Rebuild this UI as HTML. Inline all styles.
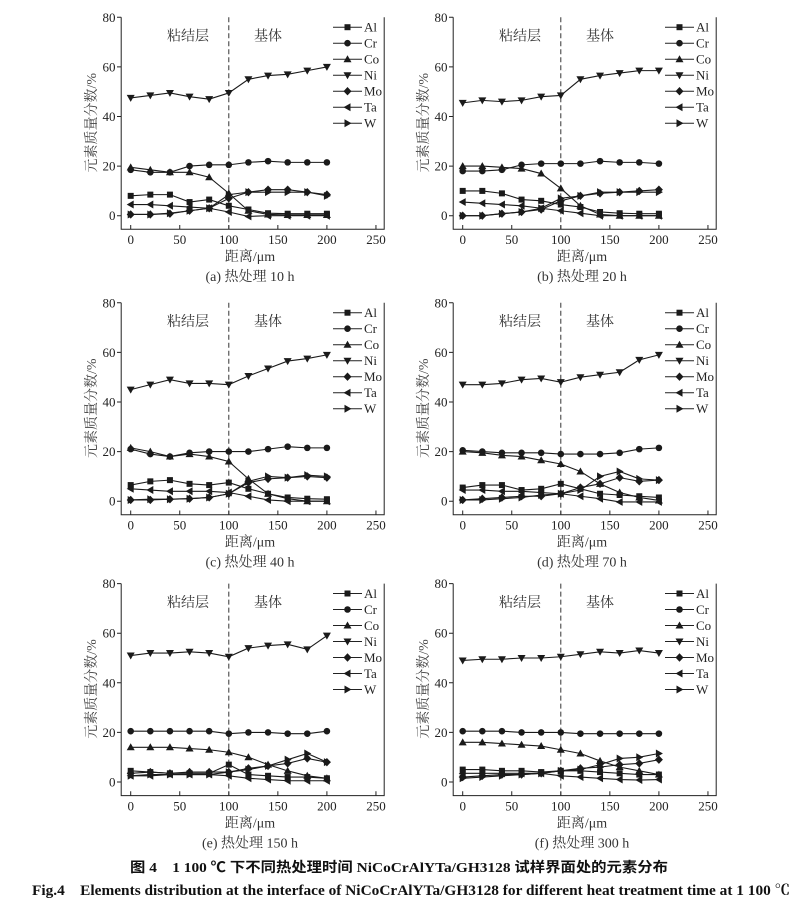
<!DOCTYPE html>
<html><head><meta charset="utf-8"><style>
html,body{margin:0;padding:0;background:#fff;}
svg{display:block;}
.t{font-family:"Liberation Serif","Noto Serif CJK SC",serif;font-size:13px;fill:#222;}
.c{font-family:"Liberation Serif","Noto Serif CJK SC",serif;font-size:14px;fill:#333;}
.ax{fill:none;stroke:#222;stroke-width:1;}
.dash{fill:none;stroke:#333;stroke-width:1;stroke-dasharray:5,3;}
.s{fill:none;stroke:#1a1a1a;stroke-width:1.1;}
.sq{marker:url(#m-sq);} .ci{marker:url(#m-ci);} .tu{marker:url(#m-tu);} .td{marker:url(#m-td);}
.di{marker:url(#m-di);} .tl{marker:url(#m-tl);} .tr{marker:url(#m-tr);}
.lg{fill:#1a1a1a;}
</style></head><body>
<svg width="800" height="909" viewBox="0 0 800 909" xmlns="http://www.w3.org/2000/svg">
<defs>
<marker id="m-sq" markerUnits="userSpaceOnUse" markerWidth="10" markerHeight="10" refX="5" refY="5" orient="0" style="overflow:visible"><path transform="translate(5,5)" d="M-3.06,-1.21h6.12v2.42h-6.12z" fill="#1a1a1a"/></marker>
<marker id="m-ci" markerUnits="userSpaceOnUse" markerWidth="10" markerHeight="10" refX="5" refY="5" orient="0" style="overflow:visible"><ellipse cx="5" cy="5" rx="3.36" ry="1.33" fill="#1a1a1a"/></marker>
<marker id="m-tu" markerUnits="userSpaceOnUse" markerWidth="10" markerHeight="10" refX="5" refY="5" orient="0" style="overflow:visible"><path transform="translate(5,5)" d="M0,1.61L4.08,-1.21L-4.08,-1.21Z" fill="#1a1a1a"/></marker>
<marker id="m-td" markerUnits="userSpaceOnUse" markerWidth="10" markerHeight="10" refX="5" refY="5" orient="0" style="overflow:visible"><path transform="translate(5,5)" d="M0,-1.61L4.08,1.21L-4.08,1.21Z" fill="#1a1a1a"/></marker>
<marker id="m-di" markerUnits="userSpaceOnUse" markerWidth="10" markerHeight="10" refX="5" refY="5" orient="0" style="overflow:visible"><path transform="translate(5,5)" d="M0,1.69L4.08,0L0,-1.69L-4.08,0Z" fill="#1a1a1a"/></marker>
<marker id="m-tl" markerUnits="userSpaceOnUse" markerWidth="10" markerHeight="10" refX="5" refY="5" orient="0" style="overflow:visible"><path transform="translate(5,5)" d="M-4.08,0L3.06,1.61L3.06,-1.61Z" fill="#1a1a1a"/></marker>
<marker id="m-tr" markerUnits="userSpaceOnUse" markerWidth="10" markerHeight="10" refX="5" refY="5" orient="0" style="overflow:visible"><path transform="translate(5,5)" d="M4.08,0L-3.06,1.61L-3.06,-1.61Z" fill="#1a1a1a"/></marker>
<path id="p-sq" d="M-3,-3h6v6h-6z"/>
<circle id="p-ci" cx="0" cy="0" r="3.3"/>
<path id="p-tu" d="M0,-4L4,3L-4,3Z"/>
<path id="p-td" d="M0,4L4,-3L-4,-3Z"/>
<path id="p-di" d="M0,-4.2L4,0L0,4.2L-4,0Z"/>
<path id="p-tl" d="M-4,0L3,-4L3,4Z"/>
<path id="p-tr" d="M4,0L-3,-4L-3,4Z"/>
</defs>

<!-- Panel a -->
<g transform="translate(0,0)">
<path class="ax" d="M121.2,17.3V229.3H384.2V17.3"/>
<path class="ax" d="M117,215.7H121.2M117,166.1H121.2M117,116.5H121.2M117,66.9H121.2M117,17.3H121.2M130.7,229.3V225M179.75,229.3V225M228.8,229.3V225M277.85,229.3V225M326.9,229.3V225M375.95,229.3V225"/>
<path class="dash" d="M228.8,17.3V229.3"/>
<g class="t" text-anchor="end"><text x="115.5" y="220.2">0</text><text x="115.5" y="170.6">20</text><text x="115.5" y="121">40</text><text x="115.5" y="71.4">60</text><text x="115.5" y="21.8">80</text></g>
<g class="t" text-anchor="middle"><text x="130.7" y="244">0</text><text x="179.75" y="244">50</text><text x="228.8" y="244">100</text><text x="277.85" y="244">150</text><text x="326.9" y="244">200</text><text x="375.95" y="244">250</text></g>
<text class="c" x="188" y="40.5" text-anchor="middle">粘结层</text>
<text class="c" x="268" y="40.5" text-anchor="middle">基体</text>
<text class="c" transform="translate(96,122.7) rotate(-90)" text-anchor="middle" style="fill:#444">元素质量分数/%</text>
<text class="c" x="250" y="261.2" text-anchor="middle">距离/μm</text>
<text class="c" x="250" y="281" text-anchor="middle">(a) 热处理 10 h</text>
<path class="ax" d="M333,27.2H362M333,43.2H362M333,59.2H362M333,75.2H362M333,91.2H362M333,107.2H362M333,123.2H362"/>
<g class="lg"><use href="#p-sq" x="347.5" y="27.2"/><use href="#p-ci" x="347.5" y="43.2"/><use href="#p-tu" x="347.5" y="59.2"/><use href="#p-td" x="347.5" y="75.2"/><use href="#p-di" x="347.5" y="91.2"/><use href="#p-tl" x="347.5" y="107.2"/><use href="#p-tr" x="347.5" y="123.2"/></g>
<g class="t"><text x="364" y="31.7">Al</text><text x="364" y="47.7">Cr</text><text x="364" y="63.7">Co</text><text x="364" y="79.7">Ni</text><text x="364" y="95.7">Mo</text><text x="364" y="111.7">Ta</text><text x="364" y="127.7">W</text></g>
<g transform="translate(130.7,215.7) scale(0.981,-2.48)">
<polyline class="s sq" vector-effect="non-scaling-stroke" points="0,8 20,8.5 40,8.5 60,5.5 80,6.5 100,4 120,2.5 140,1 160,0.8 180,0.8 200,0.8"/>
<polyline class="s ci" vector-effect="non-scaling-stroke" points="0,18.5 20,17.5 40,17.5 60,20 80,20.5 100,20.5 120,21.5 140,22 160,21.5 180,21.5 200,21.5"/>
<polyline class="s tu" vector-effect="non-scaling-stroke" points="0,19.5 20,18.5 40,17.5 60,17.5 80,15.5 100,9 120,2 140,0.5 160,0.3 180,0.3 200,0.3"/>
<polyline class="s td" vector-effect="non-scaling-stroke" points="0,47.5 20,48.5 40,49.5 60,48 80,47 100,49.5 120,55 140,56.5 160,57 180,58.5 200,60"/>
<polyline class="s di" vector-effect="non-scaling-stroke" points="0,0.5 20,0.5 40,0.8 60,2 80,3 100,7 120,9.5 140,10.5 160,10.5 180,9.5 200,8.5"/>
<polyline class="s tl" vector-effect="non-scaling-stroke" points="0,4.5 20,4.5 40,4 60,3.5 80,3 100,1.5 120,-0.3 140,0 160,0 180,0 200,0"/>
<polyline class="s tr" vector-effect="non-scaling-stroke" points="0,0.5 20,0.5 40,1 60,2 80,3 100,8.5 120,9.5 140,9.5 160,9.5 180,9.5 200,8"/>
</g>
</g>

<!-- Panel b -->
<g transform="translate(332,0)">
<path class="ax" d="M121.2,17.3V229.3H384.2V17.3"/>
<path class="ax" d="M117,215.7H121.2M117,166.1H121.2M117,116.5H121.2M117,66.9H121.2M117,17.3H121.2M130.7,229.3V225M179.75,229.3V225M228.8,229.3V225M277.85,229.3V225M326.9,229.3V225M375.95,229.3V225"/>
<path class="dash" d="M228.8,17.3V229.3"/>
<g class="t" text-anchor="end"><text x="115.5" y="220.2">0</text><text x="115.5" y="170.6">20</text><text x="115.5" y="121">40</text><text x="115.5" y="71.4">60</text><text x="115.5" y="21.8">80</text></g>
<g class="t" text-anchor="middle"><text x="130.7" y="244">0</text><text x="179.75" y="244">50</text><text x="228.8" y="244">100</text><text x="277.85" y="244">150</text><text x="326.9" y="244">200</text><text x="375.95" y="244">250</text></g>
<text class="c" x="188" y="40.5" text-anchor="middle">粘结层</text>
<text class="c" x="268" y="40.5" text-anchor="middle">基体</text>
<text class="c" transform="translate(96,122.7) rotate(-90)" text-anchor="middle" style="fill:#444">元素质量分数/%</text>
<text class="c" x="250" y="261.2" text-anchor="middle">距离/μm</text>
<text class="c" x="250" y="281" text-anchor="middle">(b) 热处理 20 h</text>
<path class="ax" d="M333,27.2H362M333,43.2H362M333,59.2H362M333,75.2H362M333,91.2H362M333,107.2H362M333,123.2H362"/>
<g class="lg"><use href="#p-sq" x="347.5" y="27.2"/><use href="#p-ci" x="347.5" y="43.2"/><use href="#p-tu" x="347.5" y="59.2"/><use href="#p-td" x="347.5" y="75.2"/><use href="#p-di" x="347.5" y="91.2"/><use href="#p-tl" x="347.5" y="107.2"/><use href="#p-tr" x="347.5" y="123.2"/></g>
<g class="t"><text x="364" y="31.7">Al</text><text x="364" y="47.7">Cr</text><text x="364" y="63.7">Co</text><text x="364" y="79.7">Ni</text><text x="364" y="95.7">Mo</text><text x="364" y="111.7">Ta</text><text x="364" y="127.7">W</text></g>
<g transform="translate(130.7,215.7) scale(0.981,-2.48)">
<polyline class="s sq" vector-effect="non-scaling-stroke" points="0,10 20,10 40,9 60,6.5 80,6 100,4.5 120,3.5 140,1.5 160,1 180,0.8 200,0.8"/>
<polyline class="s ci" vector-effect="non-scaling-stroke" points="0,18 20,18 40,18.5 60,20.5 80,21 100,21 120,21 140,22 160,21.5 180,21.5 200,21"/>
<polyline class="s tu" vector-effect="non-scaling-stroke" points="0,20 20,20 40,19.5 60,19 80,17 100,11 120,4 140,0.5 160,0 180,0 200,0"/>
<polyline class="s td" vector-effect="non-scaling-stroke" points="0,45.5 20,46.5 40,46 60,46.5 80,48 100,48.5 120,55 140,56.5 160,57.5 180,58.5 200,58.5"/>
<polyline class="s di" vector-effect="non-scaling-stroke" points="0,0 20,0 40,0.8 60,1.5 80,2.5 100,6 120,8 140,9 160,9.5 180,10 200,10.5"/>
<polyline class="s tl" vector-effect="non-scaling-stroke" points="0,5.5 20,5 40,4.5 60,4 80,3 100,2 120,1 140,0 160,0 180,0 200,0"/>
<polyline class="s tr" vector-effect="non-scaling-stroke" points="0,0 20,0 40,0.8 60,1.5 80,3 100,7 120,8 140,9.5 160,9.5 180,9.5 200,9.5"/>
</g>
</g>

<!-- Panel c -->
<g transform="translate(0,285.5)">
<path class="ax" d="M121.2,17.3V229.3H384.2V17.3"/>
<path class="ax" d="M117,215.7H121.2M117,166.1H121.2M117,116.5H121.2M117,66.9H121.2M117,17.3H121.2M130.7,229.3V225M179.75,229.3V225M228.8,229.3V225M277.85,229.3V225M326.9,229.3V225M375.95,229.3V225"/>
<path class="dash" d="M228.8,17.3V229.3"/>
<g class="t" text-anchor="end"><text x="115.5" y="220.2">0</text><text x="115.5" y="170.6">20</text><text x="115.5" y="121">40</text><text x="115.5" y="71.4">60</text><text x="115.5" y="21.8">80</text></g>
<g class="t" text-anchor="middle"><text x="130.7" y="244">0</text><text x="179.75" y="244">50</text><text x="228.8" y="244">100</text><text x="277.85" y="244">150</text><text x="326.9" y="244">200</text><text x="375.95" y="244">250</text></g>
<text class="c" x="188" y="40.5" text-anchor="middle">粘结层</text>
<text class="c" x="268" y="40.5" text-anchor="middle">基体</text>
<text class="c" transform="translate(96,122.7) rotate(-90)" text-anchor="middle" style="fill:#444">元素质量分数/%</text>
<text class="c" x="250" y="261.2" text-anchor="middle">距离/μm</text>
<text class="c" x="250" y="281" text-anchor="middle">(c) 热处理 40 h</text>
<path class="ax" d="M333,27.2H362M333,43.2H362M333,59.2H362M333,75.2H362M333,91.2H362M333,107.2H362M333,123.2H362"/>
<g class="lg"><use href="#p-sq" x="347.5" y="27.2"/><use href="#p-ci" x="347.5" y="43.2"/><use href="#p-tu" x="347.5" y="59.2"/><use href="#p-td" x="347.5" y="75.2"/><use href="#p-di" x="347.5" y="91.2"/><use href="#p-tl" x="347.5" y="107.2"/><use href="#p-tr" x="347.5" y="123.2"/></g>
<g class="t"><text x="364" y="31.7">Al</text><text x="364" y="47.7">Cr</text><text x="364" y="63.7">Co</text><text x="364" y="79.7">Ni</text><text x="364" y="95.7">Mo</text><text x="364" y="111.7">Ta</text><text x="364" y="127.7">W</text></g>
<g transform="translate(130.7,215.7) scale(0.981,-2.48)">
<polyline class="s sq" vector-effect="non-scaling-stroke" points="0,6.5 20,8 40,8.5 60,7 80,6.5 100,7.5 120,5 140,3 160,1.5 180,1 200,0.8"/>
<polyline class="s ci" vector-effect="non-scaling-stroke" points="0,21 20,19 40,18 60,19.5 80,20 100,20 120,20 140,21 160,22 180,21.5 200,21.5"/>
<polyline class="s tu" vector-effect="non-scaling-stroke" points="0,21.5 20,20 40,18 60,19 80,18 100,16 120,9 140,3 160,1 180,0 200,0"/>
<polyline class="s td" vector-effect="non-scaling-stroke" points="0,45 20,47 40,49 60,47.5 80,47.5 100,47 120,50.5 140,53.5 160,56.5 180,57.5 200,59"/>
<polyline class="s di" vector-effect="non-scaling-stroke" points="0,0.5 20,0.5 40,0.8 60,1 80,1.5 100,3 120,7.5 140,9 160,9.5 180,10 200,9.5"/>
<polyline class="s tl" vector-effect="non-scaling-stroke" points="0,5 20,4.5 40,4 60,4 80,4 100,3.5 120,2 140,0.5 160,0 180,0 200,0"/>
<polyline class="s tr" vector-effect="non-scaling-stroke" points="0,0.5 20,0.8 40,0.8 60,1 80,1.5 100,3 120,8 140,10 160,9.5 180,10.5 200,10"/>
</g>
</g>

<!-- Panel d -->
<g transform="translate(332,285.5)">
<path class="ax" d="M121.2,17.3V229.3H384.2V17.3"/>
<path class="ax" d="M117,215.7H121.2M117,166.1H121.2M117,116.5H121.2M117,66.9H121.2M117,17.3H121.2M130.7,229.3V225M179.75,229.3V225M228.8,229.3V225M277.85,229.3V225M326.9,229.3V225M375.95,229.3V225"/>
<path class="dash" d="M228.8,17.3V229.3"/>
<g class="t" text-anchor="end"><text x="115.5" y="220.2">0</text><text x="115.5" y="170.6">20</text><text x="115.5" y="121">40</text><text x="115.5" y="71.4">60</text><text x="115.5" y="21.8">80</text></g>
<g class="t" text-anchor="middle"><text x="130.7" y="244">0</text><text x="179.75" y="244">50</text><text x="228.8" y="244">100</text><text x="277.85" y="244">150</text><text x="326.9" y="244">200</text><text x="375.95" y="244">250</text></g>
<text class="c" x="188" y="40.5" text-anchor="middle">粘结层</text>
<text class="c" x="268" y="40.5" text-anchor="middle">基体</text>
<text class="c" transform="translate(96,122.7) rotate(-90)" text-anchor="middle" style="fill:#444">元素质量分数/%</text>
<text class="c" x="250" y="261.2" text-anchor="middle">距离/μm</text>
<text class="c" x="250" y="281" text-anchor="middle">(d) 热处理 70 h</text>
<path class="ax" d="M333,27.2H362M333,43.2H362M333,59.2H362M333,75.2H362M333,91.2H362M333,107.2H362M333,123.2H362"/>
<g class="lg"><use href="#p-sq" x="347.5" y="27.2"/><use href="#p-ci" x="347.5" y="43.2"/><use href="#p-tu" x="347.5" y="59.2"/><use href="#p-td" x="347.5" y="75.2"/><use href="#p-di" x="347.5" y="91.2"/><use href="#p-tl" x="347.5" y="107.2"/><use href="#p-tr" x="347.5" y="123.2"/></g>
<g class="t"><text x="364" y="31.7">Al</text><text x="364" y="47.7">Cr</text><text x="364" y="63.7">Co</text><text x="364" y="79.7">Ni</text><text x="364" y="95.7">Mo</text><text x="364" y="111.7">Ta</text><text x="364" y="127.7">W</text></g>
<g transform="translate(130.7,215.7) scale(0.981,-2.48)">
<polyline class="s sq" vector-effect="non-scaling-stroke" points="0,5.5 20,6.5 40,6.5 60,4.5 80,5 100,7 120,5 140,3 160,2.5 180,2 200,1.5"/>
<polyline class="s ci" vector-effect="non-scaling-stroke" points="0,20.5 20,20 40,19.5 60,19.5 80,19.5 100,19 120,19 140,19 160,19.5 180,21 200,21.5"/>
<polyline class="s tu" vector-effect="non-scaling-stroke" points="0,20 20,19.5 40,18.5 60,18 80,16.5 100,15 120,12 140,7 160,3.5 180,1.5 200,0.3"/>
<polyline class="s td" vector-effect="non-scaling-stroke" points="0,47 20,47 40,47.5 60,49 80,49.5 100,48 120,50 140,51 160,52 180,57 200,59"/>
<polyline class="s di" vector-effect="non-scaling-stroke" points="0,0.5 20,1 40,1.5 60,2 80,2 100,3 120,5.5 140,7 160,9.5 180,8 200,8.5"/>
<polyline class="s tl" vector-effect="non-scaling-stroke" points="0,4.5 20,4.5 40,4 60,4 80,3.5 100,3 120,2 140,1 160,-0.3 180,-0.3 200,-0.3"/>
<polyline class="s tr" vector-effect="non-scaling-stroke" points="0,0.5 20,0.5 40,1 60,1.5 80,2.5 100,3 120,4.5 140,10 160,12 180,9 200,8.5"/>
</g>
</g>

<!-- Panel e -->
<g transform="translate(0,566.3)">
<path class="ax" d="M121.2,17.3V229.3H384.2V17.3"/>
<path class="ax" d="M117,215.7H121.2M117,166.1H121.2M117,116.5H121.2M117,66.9H121.2M117,17.3H121.2M130.7,229.3V225M179.75,229.3V225M228.8,229.3V225M277.85,229.3V225M326.9,229.3V225M375.95,229.3V225"/>
<path class="dash" d="M228.8,17.3V229.3"/>
<g class="t" text-anchor="end"><text x="115.5" y="220.2">0</text><text x="115.5" y="170.6">20</text><text x="115.5" y="121">40</text><text x="115.5" y="71.4">60</text><text x="115.5" y="21.8">80</text></g>
<g class="t" text-anchor="middle"><text x="130.7" y="244">0</text><text x="179.75" y="244">50</text><text x="228.8" y="244">100</text><text x="277.85" y="244">150</text><text x="326.9" y="244">200</text><text x="375.95" y="244">250</text></g>
<text class="c" x="188" y="40.5" text-anchor="middle">粘结层</text>
<text class="c" x="268" y="40.5" text-anchor="middle">基体</text>
<text class="c" transform="translate(96,122.7) rotate(-90)" text-anchor="middle" style="fill:#444">元素质量分数/%</text>
<text class="c" x="250" y="261.2" text-anchor="middle">距离/μm</text>
<text class="c" x="250" y="281" text-anchor="middle">(e) 热处理 150 h</text>
<path class="ax" d="M333,27.2H362M333,43.2H362M333,59.2H362M333,75.2H362M333,91.2H362M333,107.2H362M333,123.2H362"/>
<g class="lg"><use href="#p-sq" x="347.5" y="27.2"/><use href="#p-ci" x="347.5" y="43.2"/><use href="#p-tu" x="347.5" y="59.2"/><use href="#p-td" x="347.5" y="75.2"/><use href="#p-di" x="347.5" y="91.2"/><use href="#p-tl" x="347.5" y="107.2"/><use href="#p-tr" x="347.5" y="123.2"/></g>
<g class="t"><text x="364" y="31.7">Al</text><text x="364" y="47.7">Cr</text><text x="364" y="63.7">Co</text><text x="364" y="79.7">Ni</text><text x="364" y="95.7">Mo</text><text x="364" y="111.7">Ta</text><text x="364" y="127.7">W</text></g>
<g transform="translate(130.7,215.7) scale(0.981,-2.48)">
<polyline class="s sq" vector-effect="non-scaling-stroke" points="0,4.5 20,4 40,3.5 60,3.5 80,3.5 100,7 120,3 140,2.5 160,2 180,2 200,1.5"/>
<polyline class="s ci" vector-effect="non-scaling-stroke" points="0,20.5 20,20.5 40,20.5 60,20.5 80,20.5 100,19.5 120,20 140,20 160,19.5 180,19.5 200,20.5"/>
<polyline class="s tu" vector-effect="non-scaling-stroke" points="0,14 20,14 40,14 60,13.5 80,13 100,12 120,10 140,7 160,4.5 180,2.5 200,1.5"/>
<polyline class="s td" vector-effect="non-scaling-stroke" points="0,51 20,52 40,52 60,52.5 80,52 100,50.5 120,54 140,55 160,55.5 180,53.5 200,59"/>
<polyline class="s di" vector-effect="non-scaling-stroke" points="0,3.5 20,4 40,3.5 60,4 80,4 100,4 120,5.5 140,6.5 160,7.5 180,9.5 200,8"/>
<polyline class="s tl" vector-effect="non-scaling-stroke" points="0,2.5 20,2.5 40,3 60,3 80,3 100,2.5 120,1.5 140,1 160,0.5 180,0.5 200,0.5"/>
<polyline class="s tr" vector-effect="non-scaling-stroke" points="0,2.5 20,3 40,3 60,3 80,3 100,4 120,5 140,6.5 160,9 180,11.5 200,8"/>
</g>
</g>

<!-- Panel f -->
<g transform="translate(332,566.3)">
<path class="ax" d="M121.2,17.3V229.3H384.2V17.3"/>
<path class="ax" d="M117,215.7H121.2M117,166.1H121.2M117,116.5H121.2M117,66.9H121.2M117,17.3H121.2M130.7,229.3V225M179.75,229.3V225M228.8,229.3V225M277.85,229.3V225M326.9,229.3V225M375.95,229.3V225"/>
<path class="dash" d="M228.8,17.3V229.3"/>
<g class="t" text-anchor="end"><text x="115.5" y="220.2">0</text><text x="115.5" y="170.6">20</text><text x="115.5" y="121">40</text><text x="115.5" y="71.4">60</text><text x="115.5" y="21.8">80</text></g>
<g class="t" text-anchor="middle"><text x="130.7" y="244">0</text><text x="179.75" y="244">50</text><text x="228.8" y="244">100</text><text x="277.85" y="244">150</text><text x="326.9" y="244">200</text><text x="375.95" y="244">250</text></g>
<text class="c" x="188" y="40.5" text-anchor="middle">粘结层</text>
<text class="c" x="268" y="40.5" text-anchor="middle">基体</text>
<text class="c" transform="translate(96,122.7) rotate(-90)" text-anchor="middle" style="fill:#444">元素质量分数/%</text>
<text class="c" x="250" y="261.2" text-anchor="middle">距离/μm</text>
<text class="c" x="250" y="281" text-anchor="middle">(f) 热处理 300 h</text>
<path class="ax" d="M333,27.2H362M333,43.2H362M333,59.2H362M333,75.2H362M333,91.2H362M333,107.2H362M333,123.2H362"/>
<g class="lg"><use href="#p-sq" x="347.5" y="27.2"/><use href="#p-ci" x="347.5" y="43.2"/><use href="#p-tu" x="347.5" y="59.2"/><use href="#p-td" x="347.5" y="75.2"/><use href="#p-di" x="347.5" y="91.2"/><use href="#p-tl" x="347.5" y="107.2"/><use href="#p-tr" x="347.5" y="123.2"/></g>
<g class="t"><text x="364" y="31.7">Al</text><text x="364" y="47.7">Cr</text><text x="364" y="63.7">Co</text><text x="364" y="79.7">Ni</text><text x="364" y="95.7">Mo</text><text x="364" y="111.7">Ta</text><text x="364" y="127.7">W</text></g>
<g transform="translate(130.7,215.7) scale(0.981,-2.48)">
<polyline class="s sq" vector-effect="non-scaling-stroke" points="0,5 20,5 40,4.5 60,4.5 80,4 100,4.5 120,4.5 140,4 160,3.5 180,3 200,3"/>
<polyline class="s ci" vector-effect="non-scaling-stroke" points="0,20.5 20,20.5 40,20.5 60,20 80,20 100,20 120,19.5 140,19.5 160,19.5 180,19.5 200,19.5"/>
<polyline class="s tu" vector-effect="non-scaling-stroke" points="0,16 20,16 40,15.5 60,15 80,14.5 100,13 120,11.5 140,8.5 160,6 180,4.5 200,3"/>
<polyline class="s td" vector-effect="non-scaling-stroke" points="0,49 20,49.5 40,49.5 60,50 80,50 100,50.5 120,51.5 140,52.5 160,52 180,53 200,52"/>
<polyline class="s di" vector-effect="non-scaling-stroke" points="0,2 20,2.5 40,3 60,3 80,3.5 100,4.5 120,5.5 140,6 160,7 180,7.5 200,9"/>
<polyline class="s tl" vector-effect="non-scaling-stroke" points="0,3.5 20,3.5 40,3.5 60,3.5 80,3.5 100,2.5 120,2 140,1.5 160,1 180,0.8 200,1"/>
<polyline class="s tr" vector-effect="non-scaling-stroke" points="0,1.5 20,2 40,2.5 60,3 80,3.5 100,4.5 120,5 140,7 160,9.5 180,10 200,11.5"/>
</g>
</g>

<!-- Figure captions -->
<text x="399" y="872" text-anchor="middle" textLength="538" lengthAdjust="spacingAndGlyphs" style="font-family:'Liberation Serif','Noto Sans CJK SC',sans-serif;font-size:14px;font-weight:bold;fill:#111">图 4　1 100 ℃ 下不同热处理时间 NiCoCrAlYTa/GH3128 试样界面处的元素分布</text>
<text x="411" y="895" text-anchor="middle" textLength="758" lengthAdjust="spacingAndGlyphs" style="font-family:'Liberation Serif','Noto Serif CJK SC',serif;font-size:14.5px;font-weight:bold;fill:#111">Fig.4　Elements distribution at the interface of NiCoCrAlYTa/GH3128 for different heat treatment time at 1 100 ℃</text>
</svg>
</body></html>
